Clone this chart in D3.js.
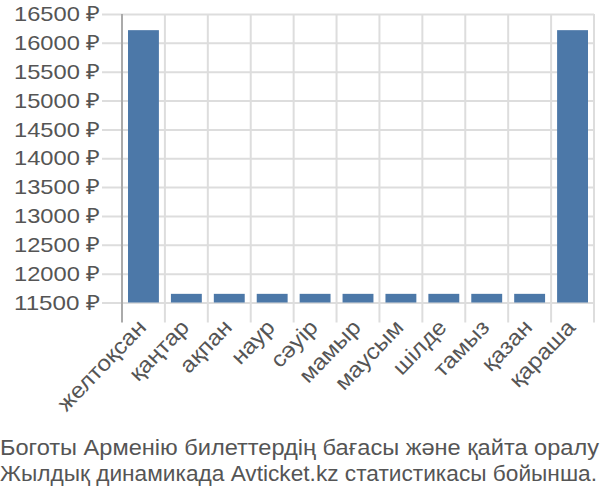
<!DOCTYPE html>
<html><head><meta charset="utf-8">
<script src="https://cdn.jsdelivr.net/npm/d3@7"></script>
<style>body{margin:0;background:#fff;} svg{display:block;}</style>
</head><body>
<svg id="c" width="600" height="500"></svg>
<script>
const categories = ["желтоқсан","қаңтар","ақпан","наур","сәуір","мамыр","маусым","шілде","тамыз","қазан","қараша"];
const values = [16220,11650,11650,11650,11650,11650,11650,11650,11650,11650,16220];
const yTicks = [11500,12000,12500,13000,13500,14000,14500,15000,15500,16000,16500];
const titleLines = ["Боготы Арменію билеттердің бағасы және қайта оралу","Жылдық динамикада Avticket.kz статистикасы бойынша."];

const svg = d3.select("#c");
const W = 600, H = 500;
const m = {l:122, r:6, t:14, b:197.5};
const x = d3.scaleBand().domain(categories).range([m.l, W-m.r]).paddingInner(0.28).paddingOuter(0.14);
const y = d3.scaleLinear().domain([11500,16500]).range([H-m.b, m.t]);
const font = "'Liberation Sans', Arial, sans-serif";
const grid = "#dddddd";
const txt = "#555555";

// horizontal grid + y labels
const gy = svg.append("g").attr("transform",`translate(${m.l},0)`)
  .call(d3.axisLeft(y).tickValues(yTicks).tickSize(20).tickFormat(d=>d+" ₽"));
gy.select(".domain").remove();
gy.selectAll(".tick line").attr("stroke",grid).attr("stroke-width",2).attr("x1",-20).attr("x2",W-m.r-m.l);
gy.selectAll(".tick text").attr("x",-22).attr("fill",txt)
  .style("font-family",font).style("font-size","21px")
  .attr("textLength",86).attr("lengthAdjust","spacingAndGlyphs");

// vertical grid lines at band boundaries
const step = x.step();
const edges = d3.range(1, categories.length+1).map(i=>m.l + i*step);
svg.append("g").selectAll("line").data(edges).join("line")
  .attr("x1",d=>d).attr("x2",d=>d).attr("y1",m.t).attr("y2",H-m.b+20)
  .attr("stroke",grid).attr("stroke-width",2);
// left axis line
svg.append("line").attr("x1",m.l).attr("x2",m.l).attr("y1",m.t).attr("y2",H-m.b+20)
  .attr("stroke","#aaaaaa").attr("stroke-width",2);

// bars
svg.append("g").selectAll("rect").data(values).join("rect")
  .attr("x",(d,i)=>x(categories[i])).attr("width",x.bandwidth())
  .attr("y",d=>y(d)).attr("height",d=>y(11500)-y(d))
  .attr("fill","#4c78a8");

// x labels
svg.append("g").selectAll("text").data(categories).join("text")
  .attr("transform",d=>`translate(${x(d)+x.bandwidth()/2+4},${H-m.b+26}) rotate(-46) scale(1.1,1)`)
  .attr("text-anchor","end")
  .attr("fill",txt).style("font-family",font).style("font-size","22px").text(d=>d);

// title
const tl = [599, 597];
svg.append("g").selectAll("text").data(titleLines).join("text")
  .attr("x",0).attr("y",(d,i)=>455+i*26)
  .attr("textLength",(d,i)=>tl[i]).attr("lengthAdjust","spacingAndGlyphs")
  .attr("fill",txt).style("font-family",font).style("font-size","22px").text(d=>d);
</script>
</body></html>
